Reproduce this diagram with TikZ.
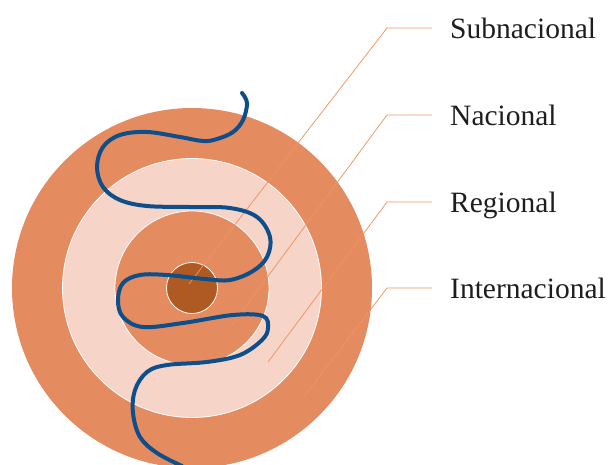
\documentclass[tikz,border=0pt]{standalone}
\usepackage{fontspec}
\setmainfont{Liberation Serif}
\usetikzlibrary{positioning}
\definecolor{ringdark}{HTML}{E48B5F}
\definecolor{ringlight}{HTML}{F7D4C8}
\definecolor{core}{HTML}{AE5A22}
\definecolor{leader}{HTML}{EF9460}
\definecolor{wave}{HTML}{0E4F8B}
\definecolor{txt}{HTML}{1E1E1E}
\begin{document}
\begin{tikzpicture}[x=1pt,y=-1pt,
 ring/.style={circle,draw=white,line width=0.8pt,inner sep=0pt,minimum size=#1},
 lab/.style={anchor=west,inner xsep=0pt,text height=20pt,text depth=0pt,text=txt,font=\fontsize{29.5}{34}\selectfont},
 lead/.style={draw=leader,line width=0.75pt}]
\useasboundingbox (0,0) rectangle (611,464);
\clip (0,0) rectangle (611,464);
% rings
\node[ring=360pt,fill=ringdark,draw=none] (intl) at (192,288) {};
\node[ring=259pt,fill=ringlight] (reg) at (intl.center) {};
\node[ring=154pt,fill=ringdark] (nac) at (intl.center) {};
\node[ring=51pt,fill=core] (sub) at (intl.center) {};
% labels
\node[lab] (tsub) at (450,28) {Subnacional};
\node[lab] (tnac) at (450,115) {Nacional};
\node[lab] (treg) at (450,202) {Regional};
\node[lab] (tint) at (450,288) {Internacional};
\coordinate (esub) at (189,284);
\coordinate (enac) at (232,325);
\coordinate (ereg) at (268,362);
\coordinate (eint) at (303,398);
\coordinate (ksub) at (387,28);
\coordinate (knac) at (387,115);
\coordinate (kreg) at (387,202);
\coordinate (kint) at (387,288);
\draw[lead] (esub) -- (ksub) -- ([xshift=-18pt]tsub.west);
\draw[lead] (enac) -- (knac) -- ([xshift=-18pt]tnac.west);
\draw[lead] (ereg) -- (kreg) -- ([xshift=-18pt]treg.west);
\draw[lead] (eint) -- (kint) -- ([xshift=-18pt]tint.west);
% wave
\draw[wave,line width=4pt,line cap=round] plot[smooth,tension=0.6] coordinates {
 (242,93) (247,103) (243,120) (233,132) (217,139) (203,141) (180,137) (147,132)
 (120,135) (103,147) (97,167) (103,187) (120,200) (147,206) (190,207) (230,208)
 (257,217) (270,237) (267,257) (253,271) (230,280) (205,279) (167,275) (140,275)
 (123,283) (118,300) (123,317) (143,327) (183,323) (233,315) (263,316) (268,328)
 (262,340) (240,355) (207,362) (167,365) (147,372) (135,390) (133,413) (140,437)
 (157,453) (182,466)};
\end{tikzpicture}
\end{document}
